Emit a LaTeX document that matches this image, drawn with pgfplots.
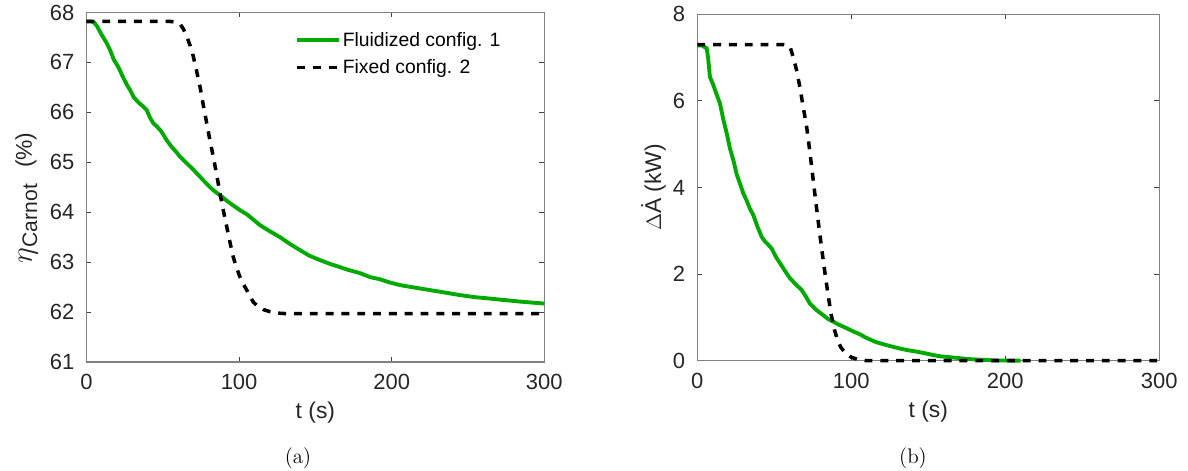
\documentclass[border=0pt]{standalone}
\usepackage{pgfplots}
\pgfplotsset{compat=1.18}
\usepackage{fontspec}
\newfontfamily\arial{Liberation Sans}
\definecolor{mgreen}{RGB}{0,170,0}
\definecolor{txt}{RGB}{38,38,38}

\pgfplotsset{
  panel/.style={
    scale only axis, clip=false, anchor=south west,
    xmin=0, xmax=300, xtick={0,100,200,300},
    tick align=inside, major tick length=0.1cm,
    axis line style={draw=black!50, line width=0.8pt},
    tick style={draw=black!75, line width=0.6pt},
    tick label style={font=\arial\fontsize{12.5}{14}\selectfont, text=txt},
    xticklabel style={yshift=-0.12cm},
    yticklabel style={xshift=-0.12cm},
    /pgf/number format/assume math mode=true,
    label style={font=\arial\fontsize{13}{15}\selectfont, text=txt},
    xlabel={t (s)},
  },
  fluid/.style={mgreen, line width=2.2pt},
  fixed/.style={black, line width=2pt, dash pattern=on 4.5pt off 4.5pt},
}

\begin{document}
\begin{tikzpicture}
\useasboundingbox (0,0) rectangle (23.76cm,9.42cm);

% (a) Carnot efficiency
\begin{axis}[panel,
  at={(1.73cm,2.18cm)}, width=9.156cm, height=6.99cm,
  ymin=61, ymax=68, ytick={61,62,...,68},
  ylabel={{\fontsize{17}{18}\selectfont$\eta$}\raisebox{-3pt}{\fontsize{12}{14}\selectfont Carnot}\hspace{0.7em}(\%)},
  ylabel style={at={(ticklabel cs:0.47)}},
  legend style={at={(0.455,0.955)}, anchor=north west, draw=none, fill=none,
    font=\arial\fontsize{11}{13}\selectfont, text=black, inner sep=0pt,
    row sep=2pt, cells={anchor=west}, nodes={inner xsep=1pt}},
  legend image code/.code={\draw[#1] (0cm,0cm) -- (0.84cm,0cm);},
]
\addplot[fluid] coordinates {
(0,67.82) (3,67.82) (5,67.80) (7,67.72) (10,67.55) (13,67.40) (15.4,67.25)
(18,67.05) (21,66.90) (24,66.70) (26.5,66.55) (28.5,66.45) (31,66.30)
(34,66.20) (37,66.12) (39.4,66.05) (41.5,65.90) (43.8,65.78) (46,65.72)
(49,65.62) (52.6,65.44) (56,65.30) (59,65.20) (61.3,65.11) (65.7,64.98)
(70,64.85) (74.4,64.71) (79,64.56) (83.1,64.44) (87.5,64.34) (91,64.25)
(95,64.16) (100.6,64.04) (105,63.96) (109,63.86) (113.7,63.74) (120,63.62)
(126.8,63.50) (133,63.37) (139.9,63.24) (146,63.13) (153,63.04) (160,62.96)
(166.1,62.90) (172,62.84) (179.2,62.78) (185.8,62.70) (191.9,62.66)
(198,62.60) (205.4,62.54) (215,62.49) (225.1,62.44) (235,62.39)
(244.7,62.34) (254,62.30) (264.4,62.27) (274,62.24) (284.1,62.21)
(292,62.19) (300,62.17)
};
\addlegendentry{Fluidized config. 1}
\addplot[fixed] coordinates {
(0,67.82) (55,67.82) (58,67.81) (61.3,67.77) (63.5,67.67) (65.7,67.52)
(68,67.33) (70,67.12) (72,66.85) (74.4,66.51) (76.5,66.15) (78.8,65.78)
(81,65.42) (83.1,65.11) (85.3,64.75) (87.5,64.38) (89.7,64.03) (91.9,63.71)
(94,63.40) (96.2,63.10) (98.4,62.88) (100.6,62.70) (103,62.55) (105,62.44)
(107,62.32) (109.3,62.20) (112,62.12) (115.9,62.05) (120,62.01)
(124.6,61.98) (130,61.97) (300,61.97)
};
\addlegendentry{Fixed config. 2}
\end{axis}

% (b) exergy rate difference
\begin{axis}[panel,
  at={(13.946cm,2.206cm)}, width=9.24cm, height=6.93cm,
  ymin=0, ymax=8, ytick={0,2,...,8},
  ylabel={$\Delta$\.{A} (kW)},
  ylabel shift=-0.1cm,
]
\addplot[fluid] coordinates {
(0,7.28) (3,7.28) (6.1,7.21) (7,7.00) (8.2,6.55) (10,6.40) (12,6.20)
(14.7,5.94) (17,5.55) (19.1,5.25) (21.2,4.90) (23.4,4.63) (25.6,4.30)
(27.7,4.09) (29.9,3.86) (32,3.70) (34,3.52) (36.4,3.36) (39,3.10)
(41.8,2.86) (44,2.75) (46,2.68) (48.3,2.59) (51,2.40) (53.7,2.25)
(57,2.07) (60.2,1.90) (64,1.76) (67.8,1.63) (70.5,1.48) (73.1,1.32)
(77,1.18) (81.8,1.05) (85,0.96) (88.3,0.90) (92,0.83) (97,0.75)
(101,0.68) (105.6,0.61) (109,0.54) (112.1,0.49) (116,0.43) (120.8,0.38)
(126,0.33) (131.6,0.28) (137,0.24) (142.4,0.21) (148,0.17) (153.2,0.13)
(158,0.10) (164.1,0.08) (170,0.06) (174.9,0.04) (180,0.03) (185.7,0.02)
(191,0.01) (196.5,0.005) (210,0.0)
};
\addplot[fixed] coordinates {
(0,7.30) (55.8,7.30) (58,7.29) (60.2,7.25) (62.3,7.01) (64.5,6.70)
(66.6,6.32) (68.8,5.85) (71,5.40) (73,4.85) (75,4.25) (77,3.65) (79,3.08)
(81,2.52) (83,2.00) (85,1.50) (87,1.05) (89,0.72) (91,0.48) (93,0.32)
(96,0.18) (100,0.08) (104,0.03) (110,0.0) (300,0.0)
};
\end{axis}

\node[font=\fontsize{12}{14}\selectfont] at (5.96cm,0.26cm) {(a)};
\node[font=\fontsize{12}{14}\selectfont] at (18.26cm,0.26cm) {(b)};
\end{tikzpicture}
\end{document}
